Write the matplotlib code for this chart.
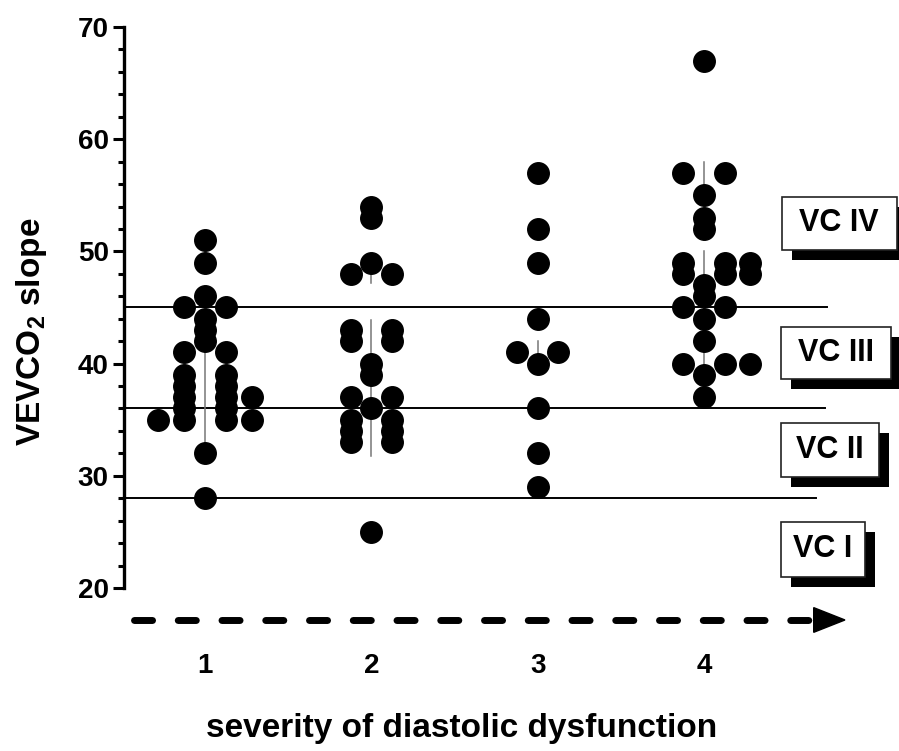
import matplotlib.pyplot as plt
from matplotlib.patches import Rectangle, Polygon

plt.rcParams['font.family'] = ['Liberation Sans', 'DejaVu Sans']
plt.rcParams['font.weight'] = 'bold'

# VE/VCO2 slope per patient, grouped by severity of diastolic dysfunction
groups = [1, 2, 3, 4]
values = {
    1: [51, 49, 46, 44, 43, 42, 32, 28,
        45, 41, 39, 38, 37, 36, 35,
        45, 41, 39, 38, 37, 36, 35,
        35,
        37, 35],
    2: [54, 53, 49, 40, 39, 36, 25,
        48, 43, 42, 37, 35, 34, 33,
        48, 43, 42, 37, 35, 34, 33],
    3: [57, 52, 49, 44, 40, 36, 32, 29,
        41,
        41],
    4: [67, 55, 53, 52, 47, 46, 44, 42, 39, 37,
        57, 49, 48, 45, 40,
        57, 49, 48, 45, 40,
        49, 48, 40],
}
# column slot of each point in the dot plot (0 = centre, -1/+1 beside, -2/+2 outer)
slots = {
    1: [0]*8 + [-1]*7 + [1]*7 + [-2] + [2]*2,
    2: [0]*7 + [-1]*7 + [1]*7,
    3: [0]*8 + [-1] + [1],
    4: [0]*10 + [-1]*5 + [1]*5 + [2]*3,
}
# thin vertical spread bars behind the dots (low, high)
spread = {
    1: [(32.5, 43.0)],
    2: [(31.8, 43.9), (47.2, 49.0)],
    3: [(39.5, 42.0)],
    4: [(39.8, 50.0), (56.0, 58.0)],
}
# ventilatory class cut-offs and labels
cutoffs = [45, 36, 28]
cut_ends = [4.74, 4.73, 4.675]
classes = ['VC IV', 'VC III', 'VC II', 'VC I']

W, H = 899, 751
fig = plt.figure(figsize=(W/100, H/100), dpi=100)
ax = fig.add_axes([124/W, 1-588/H, 704/W, 561/H])

xmin, xmax = 0.513, 4.746
ax.set_xlim(xmin, xmax)
ax.set_ylim(20, 70)

offs = {-2: -0.28, -1: -0.125, 0: 0.0, 1: 0.125, 2: 0.28}
for g in groups:
    for lo, hi in spread[g]:
        ax.plot([g, g], [lo, hi], color='#777777', lw=1.1, zorder=2)
    xs = [g + offs[s] for s in slots[g]]
    ax.plot(xs, values[g], 'o', color='black', ms=15.5, mec='black', zorder=3, clip_on=False)

for c, xe in zip(cutoffs, cut_ends):
    ax.plot([xmin, xe], [c, c], color='black', lw=1.4, zorder=1, clip_on=False)

# dashed arrow below the plot
ya = 17.15
ax.plot([0.575, 4.668], [ya, ya], color='black', lw=5, linestyle=(0, (2.6, 3.7)),
        dash_capstyle='round', clip_on=False)
ax.add_patch(Polygon([[4.66, ya + 1.1], [4.66, ya - 1.1], [4.848, ya]], closed=True,
                     color='black', clip_on=False))

for side in ['top', 'right', 'bottom']:
    ax.spines[side].set_visible(False)
ax.spines['left'].set_linewidth(2.4)

ax.set_yticks(range(20, 71, 10))
ax.set_yticks(range(20, 71, 2), minor=True)
ax.tick_params(axis='y', which='major', length=8, width=2.2, labelsize=20, pad=3)
ax.tick_params(axis='y', which='minor', length=4.5, width=2.2)
ax.set_xticks(groups)
ax.set_xticklabels([str(g) for g in groups])
ax.tick_params(axis='x', length=0, labelsize=20, pad=47)

ax.set_ylabel('VEVCO$_{\\mathregular{2}}$ slope', fontsize=24, fontweight='bold')
ax.yaxis.set_label_coords(-0.132, 0.456)
ax.yaxis.label.set_va('center')
ax.set_xlabel('severity of diastolic dysfunction', fontsize=24, fontweight='bold')
ax.xaxis.set_label_coords(0.479, -0.2496)
ax.xaxis.label.set_va('center')

# class boxes with drop shadow, in pixel units
boxes = [(781.7, 196.7, 896.7, 250.0),
         (780.7, 326.7, 890.7, 379.3),
         (780.7, 423.0, 879.0, 476.7),
         (780.7, 521.7, 865.0, 576.7)]
for (x0, y0, x1, y1), name in zip(boxes, classes):
    fig.patches.append(Rectangle(((x0 + 10)/W, 1 - (y1 + 10)/H), (x1 - x0)/W, (y1 - y0)/H,
                                 transform=fig.transFigure, facecolor='black',
                                 edgecolor='black', lw=0, zorder=5))
    fig.patches.append(Rectangle((x0/W, 1 - y1/H), (x1 - x0)/W, (y1 - y0)/H,
                                 transform=fig.transFigure, facecolor='white',
                                 edgecolor='#222222', lw=1.2, zorder=6))
    fig.text((x0 + x1)/2/W, 1 - (y0 + y1)/2/H, name, ha='center', va='center',
             fontsize=22, fontweight='bold', zorder=7)

fig.savefig('out.png', dpi=100)
